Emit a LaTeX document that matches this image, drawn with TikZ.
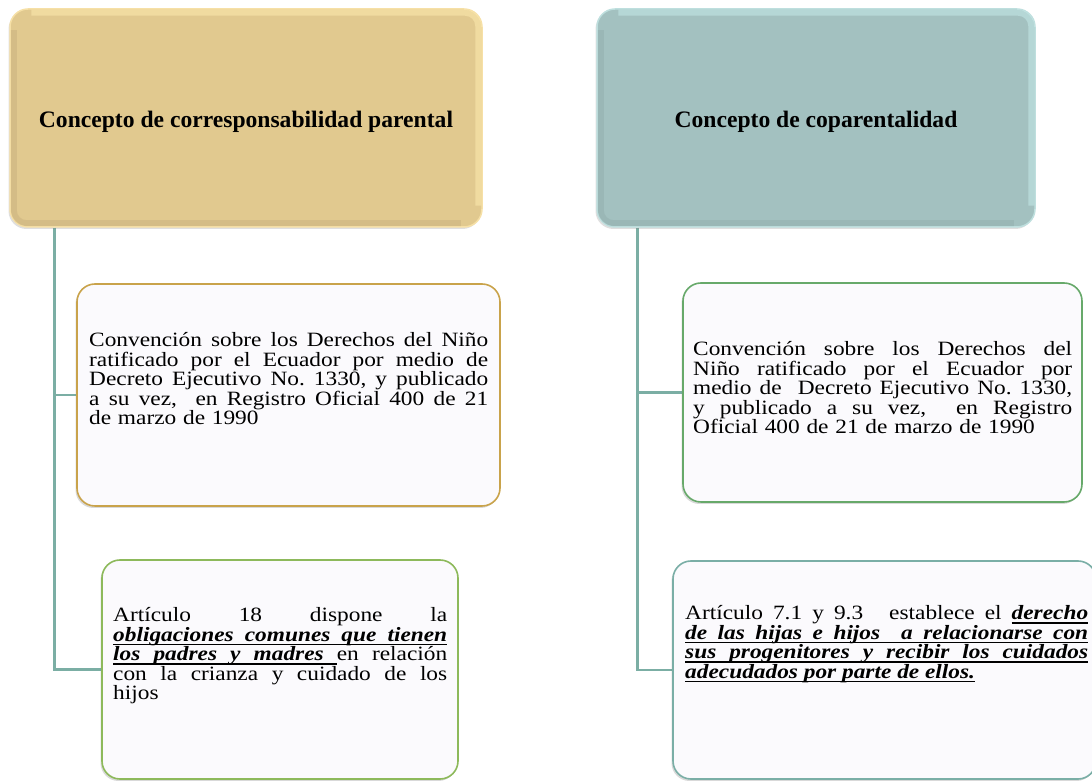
\documentclass[tikz,border=0pt]{standalone}
\usepackage{fontspec}
\setmainfont{Liberation Serif}[FakeStretch=1.15]
\newfontfamily\titlefont{Liberation Serif}
\usetikzlibrary{shadows,backgrounds}
\definecolor{goldfill}{HTML}{E1C98F}
\definecolor{goldrim}{HTML}{F6E0A6}
\definecolor{golddark}{HTML}{B9A172}
\definecolor{goldlight}{HTML}{FFEDB2}
\definecolor{tealfill}{HTML}{A3C1C0}
\definecolor{tealrim}{HTML}{BEDFDE}
\definecolor{tealdark}{HTML}{86A2A1}
\definecolor{teallight}{HTML}{C8EDEC}
\definecolor{connteal}{HTML}{7BAEA4}
\definecolor{leaffill}{HTML}{FBFAFD}
\definecolor{bordgold}{HTML}{C9A34B}
\definecolor{bordlgreen}{HTML}{8DB95B}
\definecolor{borddgreen}{HTML}{67A96A}
\definecolor{bordteal}{HTML}{7AAEA6}
\newcommand\JL[2]{\makebox[#1][s]{\spaceskip=0pt\xspaceskip=0pt #2}}
% underlined word and underlined stretchable space
\newcommand\uw[1]{\leavevmode\setbox0\hbox{#1}\rlap{\rule[-3.6pt]{\wd0}{1.2pt}}\box0}
\newcommand\us{\leavevmode\leaders\hrule height -2.4pt depth 3.6pt\hskip\fontdimen2\font plus \fontdimen3\font minus \fontdimen4\font\relax}
\newcommand\bi{\bfseries\itshape}
\begin{document}
\begin{tikzpicture}[x=1pt,y=1pt,
  topbox/.style={rectangle, rounded corners=18pt, line width=1.5pt, inner sep=0pt,
    font=\titlefont\fontsize{23.6}{22}\selectfont\bfseries,
    drop shadow={shadow xshift=-1.5pt,shadow yshift=-2pt,opacity=.25}},
  leaf/.style={rectangle, rounded corners=18pt, line width=1.6pt, fill=leaffill, inner sep=0pt,
    drop shadow={shadow xshift=-1.5pt,shadow yshift=-2pt,opacity=.3}},
  txt/.style={inner sep=0pt, align=left, anchor=base west, font=\fontsize{20.3}{19.5}\selectfont\frenchspacing},
  bev/.style={line width=6pt, rounded corners=13pt, opacity=.3},
  conn/.style={draw=connteal, line width=2.6pt}]
\useasboundingbox (0,0) rectangle (1092,781);

% top boxes
\node[topbox, fill=goldfill, draw=goldrim, minimum width=472pt, minimum height=218pt] (T1) at (246,663)
  {\raisebox{-4pt}[\height][\depth]{Concepto de corresponsabilidad parental}};
\node[topbox, fill=tealfill, draw=tealrim, minimum width=438pt, minimum height=218pt] (T2) at (816,663)
  {\raisebox{-4pt}[\height][\depth]{Concepto de coparentalidad}};

% bevels
\draw[bev, draw=golddark] ([xshift=4.5pt,yshift=-22pt]T1.north west) -- ([xshift=4.5pt,yshift=4.5pt]T1.south west) -- ([xshift=-22pt,yshift=4.5pt]T1.south east);
\draw[bev, draw=goldlight, opacity=.5] ([xshift=22pt,yshift=-4.5pt]T1.north west) -- ([xshift=-4.5pt,yshift=-4.5pt]T1.north east) -- ([xshift=-4.5pt,yshift=22pt]T1.south east);
\draw[bev, draw=tealdark] ([xshift=4.5pt,yshift=-22pt]T2.north west) -- ([xshift=4.5pt,yshift=4.5pt]T2.south west) -- ([xshift=-22pt,yshift=4.5pt]T2.south east);
\draw[bev, draw=teallight, opacity=.5] ([xshift=22pt,yshift=-4.5pt]T2.north west) -- ([xshift=-4.5pt,yshift=-4.5pt]T2.north east) -- ([xshift=-4.5pt,yshift=22pt]T2.south east);

% leaf boxes
\node[leaf, draw=bordgold, minimum width=423pt, minimum height=222pt] (M1) at (288.5,386) {};
\node[leaf, draw=bordlgreen, minimum width=356pt, minimum height=219pt] (B1) at (280,111.5) {};
\node[leaf, draw=borddgreen, minimum width=399pt, minimum height=219pt] (M2) at (882.5,388.5) {};
\node[leaf, draw=bordteal, minimum width=423pt, minimum height=218pt] (B2) at (884.5,111) {};

% connectors
\coordinate (c1) at ([xshift=45pt]T1.south west);
\coordinate (c2) at ([xshift=41pt]T2.south west);
\begin{pgfonlayer}{background}
\draw[conn] (c1) |- (M1.west);
\draw[conn] (c1) |- (B1.west);
\draw[conn] (c2) |- (M2.west);
\draw[conn] (c2) |- (B2.west);
\end{pgfonlayer}

% texts
\node[txt, text width=399pt] (M1t) at (89,434) {%
\noindent\JL{399pt}{Convención sobre los Derechos del Niño}\\
\JL{399pt}{ratificado por el Ecuador por medio de}\\
\JL{399pt}{Decreto Ejecutivo No. 1330, y publicado}\\
\JL{399pt}{a su vez,\ \ en Registro Oficial 400 de 21}\\
de marzo de 1990};

\node[txt, text width=379pt] (M2t) at (693,425) {%
\noindent\JL{379pt}{Convención sobre los Derechos del}\\
\JL{379pt}{Niño ratificado por el Ecuador por}\\
\JL{379pt}{medio de\ \ Decreto Ejecutivo No. 1330,}\\
\JL{379pt}{y publicado a su vez,\ \ en Registro}\\
Oficial 400 de 21 de marzo de 1990};

\node[txt, text width=334pt] (B1t) at (113,159) {%
\noindent\JL{334pt}{Artículo 18 dispone la}\\
\JL{334pt}{\bi\uw{obligaciones}\us\uw{comunes}\us\uw{que}\us\uw{tienen}}\\
\JL{334pt}{{\bi\uw{los}\us\uw{padres}\us\uw{y}\us\uw{madres}\us}en relación}\\
\JL{334pt}{con la crianza y cuidado de los}\\
hijos};

\node[txt, text width=403pt] (B2t) at (685,161) {%
\noindent\JL{403pt}{Artículo 7.1 y 9.3\hspace{16pt} establece el {\bi\uw{derecho}}}\\
\JL{403pt}{\bi\uw{de}\us\uw{las}\us\uw{hijas}\us\uw{e}\us\uw{hijos}\us\us\uw{a}\us\uw{relacionarse}\us\uw{con}}\\
\JL{403pt}{\bi\uw{sus}\us\uw{progenitores}\us\uw{y}\us\uw{recibir}\us\uw{los}\us\uw{cuidados}}\\
\leavevmode{\bi\uw{adecudados}\us\uw{por}\us\uw{parte}\us\uw{de}\us\uw{ellos.}}};
\end{tikzpicture}
\end{document}
